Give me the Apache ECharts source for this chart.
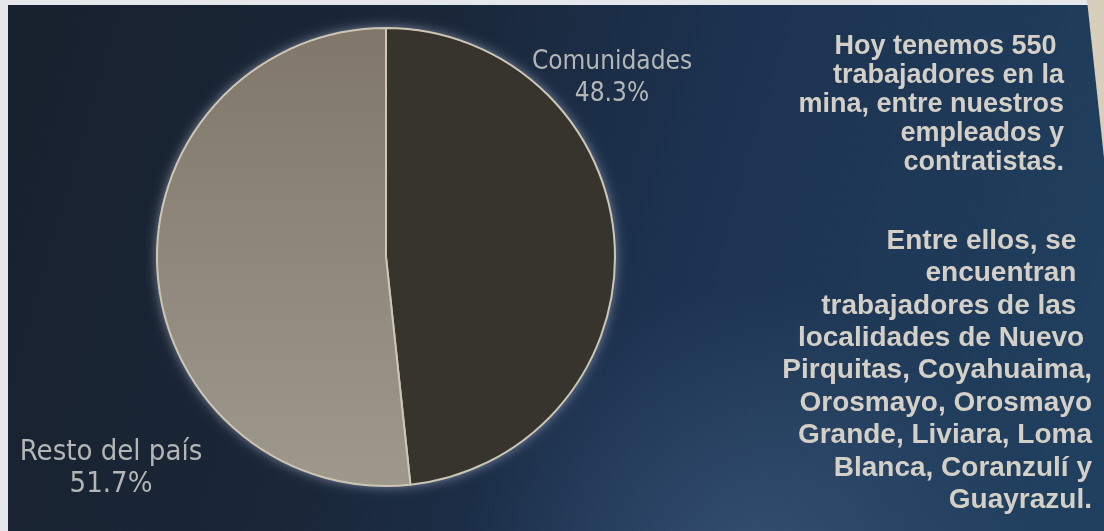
<!DOCTYPE html>
<html>
<head>
<meta charset="utf-8">
<title>Trabajadores de la mina</title>
<script src="https://cdn.jsdelivr.net/npm/echarts@6/dist/echarts.min.js"></script>
<style>
  html, body { margin: 0; padding: 0; background: #ffffff; }
  #chart { width: 1104px; height: 531px; }
</style>
</head>
<body>
<div id="chart"></div>
<script>
// Origin of the workforce (share of workers, %)
const categories = ['Comunidades', 'Resto del país'];
const shares = [48.3, 51.7];

// Side note, one entry per printed line (trailing spaces kept as typeset)
const noteTop = [
  'Hoy tenemos 550 ',
  'trabajadores en la',
  'mina, entre nuestros',
  'empleados y',
  'contratistas.'
];
const noteBottom = [
  'Entre ellos, se  ',
  'encuentran  ',
  'trabajadores de las  ',
  'localidades de Nuevo ',
  'Pirquitas, Coyahuaima,',
  'Orosmayo, Orosmayo',
  'Grande, Liviara, Loma',
  'Blanca, Coranzulí y',
  'Guayrazul.'
];

const W = 1104, H = 531;
const pieCenter = [386, 257];
const pieRadius = 229;

const labelFont = "'Liberation Sans Narrow', 'DejaVu Sans Condensed', 'Roboto', sans-serif";
const noteFont = "'Liberation Sans', 'Arial', 'Helvetica', sans-serif";

const chart = echarts.init(document.getElementById('chart'), null, { renderer: 'canvas' });

// Background panel: dark navy, bluer towards the right
const graphics = [
  {
    type: 'rect', silent: true, z: -20,
    shape: { x: 0, y: 0, width: W, height: H },
    style: {
      fill: {
        type: 'linear', x: 0, y: 0.2, x2: 1, y2: 0.8,
        colorStops: [
          { offset: 0, color: '#18212e' },
          { offset: 0.35, color: '#1a2739' },
          { offset: 0.6, color: '#1c3250' },
          { offset: 1, color: '#21405f' }
        ]
      }
    }
  },
  {
    type: 'rect', silent: true, z: -19,
    shape: { x: 0, y: 0, width: W, height: H },
    style: {
      fill: {
        type: 'radial', x: 0.68, y: 1.08, r: 0.55,
        colorStops: [
          { offset: 0, color: 'rgba(85,115,155,0.4)' },
          { offset: 1, color: 'rgba(85,115,155,0)' }
        ]
      }
    }
  },
  // paper margins
  { type: 'rect', silent: true, z: -18, shape: { x: 0, y: 0, width: W, height: 5 }, style: { fill: '#e6e7ea' } },
  { type: 'rect', silent: true, z: -18, shape: { x: 0, y: 0, width: 8, height: H }, style: { fill: '#e6e7ea' } },
  { type: 'polygon', silent: true, z: -18, shape: { points: [[1087, 0], [W, 0], [W, 158]] }, style: { fill: '#d7cfbb' } }
];

function addNote(lines, rightX, firstMid, step, size) {
  lines.forEach(function (line, i) {
    graphics.push({
      type: 'text', silent: true, z: 10,
      x: rightX, y: firstMid + i * step,
      style: {
        text: line,
        fill: '#d4d0c7',
        fontFamily: noteFont,
        fontSize: size,
        fontWeight: 'bold',
        align: 'right', textAlign: 'right',
        verticalAlign: 'middle', textVerticalAlign: 'middle'
      }
    });
  });
}
addNote(noteTop, 1064, 47, 29, 27);
addNote(noteBottom, 1092, 241, 32.4, 28);

const sliceColors = [
  '#37342e',
  {
    type: 'linear', x: 0, y: 0, x2: 0, y2: 1,
    colorStops: [
      { offset: 0, color: '#80776a' },
      { offset: 1, color: '#9e988d' }
    ]
  }
];

const pieData = categories.map(function (name, i) {
  return { name: name, value: shares[i], itemStyle: { color: sliceColors[i] } };
});

chart.setOption({
  animation: false,
  graphic: graphics,
  series: [
    {
      // soft halo behind the disc
      type: 'pie',
      silent: true,
      z: 1,
      center: pieCenter,
      radius: pieRadius,
      startAngle: 90,
      label: { show: false },
      labelLine: { show: false },
      itemStyle: {
        color: '#8a8478',
        borderWidth: 0,
        shadowBlur: 12,
        shadowColor: 'rgba(190,200,225,0.65)'
      },
      data: categories.map(function (name, i) { return { name: name, value: shares[i] }; })
    },
    {
      type: 'pie',
      z: 2,
      center: pieCenter,
      radius: pieRadius,
      startAngle: 90,
      clockwise: true,
      avoidLabelOverlap: false,
      itemStyle: {
        borderColor: '#cdc6b4',
        borderWidth: 2
      },
      label: {
        show: true,
        formatter: function (p) { return p.name + '\n' + p.value.toFixed(1) + '%'; },
        color: '#b4b6b5',
        fontFamily: labelFont,
        fontSize: 26,
        lineHeight: 32
      },
      labelLine: { show: false },
      labelLayout: function (params) {
        if (params.dataIndex === 0) {
          return { x: 612, y: 78, align: 'center', verticalAlign: 'middle' };
        }
        return { x: 111, y: 468, align: 'center', verticalAlign: 'middle', fontSize: 29 };
      },
      emphasis: { disabled: true },
      data: pieData
    }
  ]
});
</script>
</body>
</html>
